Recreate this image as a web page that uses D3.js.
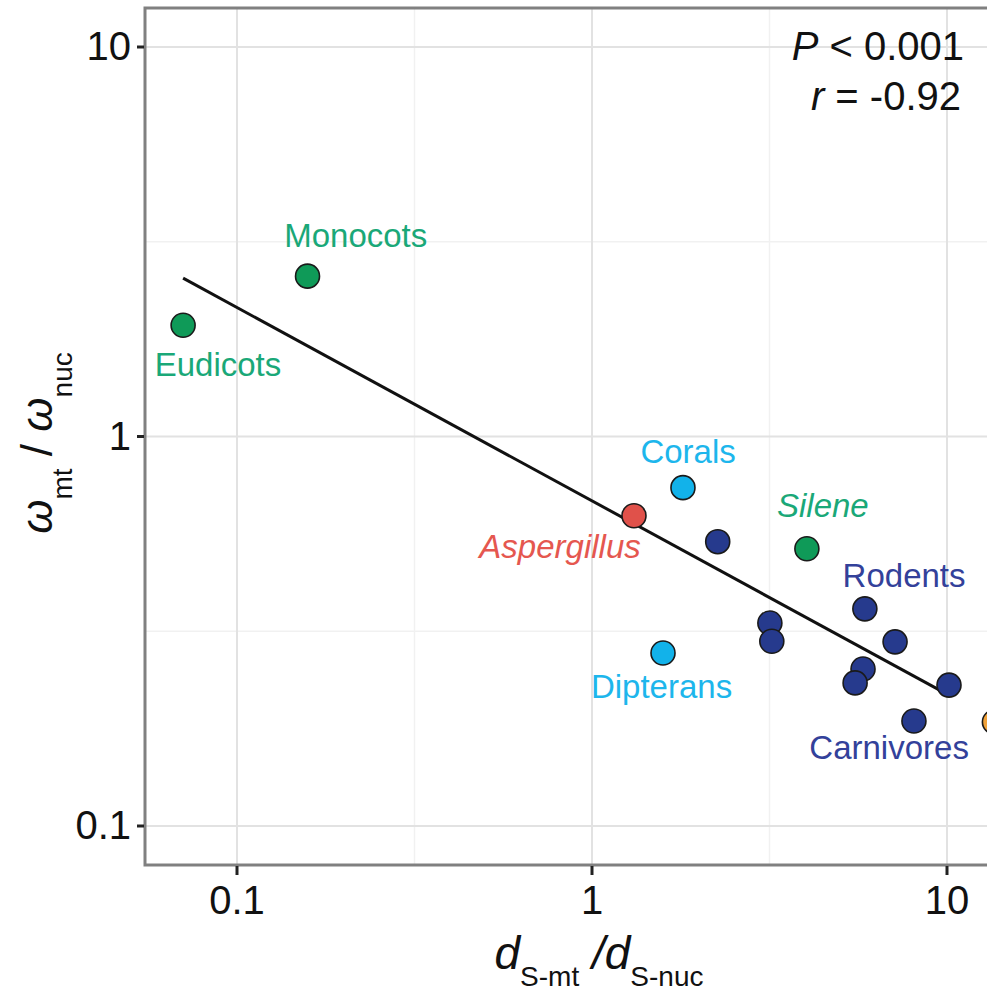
<!DOCTYPE html>
<meta charset="utf-8">
<style>
body { margin: 0; background: #fff; }
svg { display: block; font-family: "Liberation Sans", Arial, sans-serif; }
.grid-major { stroke: #e2e2e2; stroke-width: 2px; }
.grid-minor { stroke: #f1f1f1; stroke-width: 1.5px; }
.tick { stroke: #222; stroke-width: 3px; }
.ticklab { font-size: 40px; fill: #111; }
.pt { stroke: #1a1a1a; stroke-width: 1.6px; }
.lab { font-size: 33px; }
</style>
<svg width="987" height="997"></svg>
<script src="https://d3js.org/d3.v7.min.js"></script>
<script>

// points: dS-mt/dS-nuc (x), omega-mt/omega-nuc (y), group
var xVals = [0.0705, 0.158, 1.313, 1.804, 1.585, 4.03, 2.26, 3.17, 3.21, 5.87, 7.14, 5.80, 5.51, 10.13, 8.07, 13.6];
var yVals = [1.93, 2.58, 0.626, 0.739, 0.278, 0.515, 0.537, 0.332, 0.298, 0.361, 0.297, 0.253, 0.233, 0.230, 0.186, 0.185];
var groupOf = ["plant", "plant", "fungus", "cnidarian", "insect", "plant", "mammal", "mammal", "mammal", "mammal", "mammal", "mammal", "mammal", "mammal", "mammal", "other"];

var groupNames = ["plant", "fungus", "cnidarian", "insect", "mammal", "other"];
var pointColors = ["#0f9a58", "#e0514a", "#12b2ea", "#12b2ea", "#263a8d", "#f0a23a"];
var labelColors = ["#1aa878", "#e5574f", "#1db6ec", "#1db6ec", "#33419a", "#f0a23a"];

// annotation labels (anchored in data units, text centred)
var labelText = ["Monocots", "Eudicots", "Corals", "Aspergillus", "Silene", "Rodents", "Dipterans", "Carnivores"];
var labelX = [0.216, 0.0884, 1.865, 0.813, 4.47, 7.57, 1.57, 6.87];
var labelY = [3.07, 1.43, 0.857, 0.488, 0.623, 0.411, 0.213, 0.149];
var labelGroup = ["plant", "plant", "cnidarian", "fungus", "plant", "mammal", "insect", "mammal"];
var labelItalic = [false, false, false, true, true, false, false, false];

// regression line ends
var fitX = [0.0705, 10.0];
var fitY = [2.55, 0.218];

var tickVals = [0.1, 1, 10];
var tickLabels = ["0.1", "1", "10"];
var minorVals = [Math.sqrt(0.1), Math.sqrt(10)];

var svg = d3.select("svg");
var panel = {left: 145, right: 1000, top: 8, bottom: 865};

var x = d3.scaleLog().domain([0.1, 10]).range([237, 947]);
var y = d3.scaleLog().domain([0.1, 10]).range([826, 47]);

var color = d3.scaleOrdinal().domain(groupNames).range(pointColors);
var labColor = d3.scaleOrdinal().domain(groupNames).range(labelColors);

svg.append("rect")
    .attr("x", panel.left).attr("y", panel.top)
    .attr("width", panel.right - panel.left).attr("height", panel.bottom - panel.top)
    .attr("fill", "#fff");

var grid = svg.append("g");
grid.selectAll(".vminor").data(minorVals).enter().append("line")
    .attr("class", "grid-minor")
    .attr("x1", x).attr("x2", x).attr("y1", panel.top).attr("y2", panel.bottom);
grid.selectAll(".hminor").data(minorVals).enter().append("line")
    .attr("class", "grid-minor")
    .attr("y1", y).attr("y2", y).attr("x1", panel.left).attr("x2", panel.right);
grid.selectAll(".vmajor").data(tickVals).enter().append("line")
    .attr("class", "grid-major")
    .attr("x1", x).attr("x2", x).attr("y1", panel.top).attr("y2", panel.bottom);
grid.selectAll(".hmajor").data(tickVals).enter().append("line")
    .attr("class", "grid-major")
    .attr("y1", y).attr("y2", y).attr("x1", panel.left).attr("x2", panel.right);

// fit line
svg.append("path")
    .datum(d3.zip(fitX, fitY))
    .attr("fill", "none")
    .attr("stroke", "#111")
    .attr("stroke-width", 3)
    .attr("d", d3.line().x(function(d) { return x(d[0]); }).y(function(d) { return y(d[1]); }));

// points
var pts = d3.range(xVals.length).map(function(i) {
  return {x: xVals[i], y: yVals[i], g: groupOf[i]};
});
svg.append("g").selectAll("circle")
    .data(pts)
  .enter().append("circle")
    .attr("class", "pt")
    .attr("cx", function(d) { return x(d.x); })
    .attr("cy", function(d) { return y(d.y); })
    .attr("r", 12)
    .attr("fill", function(d) { return color(d.g); });

// labels
svg.append("g").selectAll("text")
    .data(d3.range(labelText.length))
  .enter().append("text")
    .attr("class", "lab")
    .attr("x", function(i) { return x(labelX[i]); })
    .attr("y", function(i) { return y(labelY[i]); })
    .attr("text-anchor", "middle")
    .attr("font-style", function(i) { return labelItalic[i] ? "italic" : "normal"; })
    .attr("fill", function(i) { return labColor(labelGroup[i]); })
    .text(function(i) { return labelText[i]; });

// panel border (gray), right side runs off the page
svg.append("rect")
    .attr("x", panel.left).attr("y", panel.top)
    .attr("width", panel.right - panel.left).attr("height", panel.bottom - panel.top)
    .attr("fill", "none")
    .attr("stroke", "#808080")
    .attr("stroke-width", 3);

// ticks
svg.selectAll(".xt").data(tickVals).enter().append("line")
    .attr("class", "tick")
    .attr("x1", x).attr("x2", x).attr("y1", panel.bottom + 1).attr("y2", panel.bottom + 10);
svg.selectAll(".yt").data(tickVals).enter().append("line")
    .attr("class", "tick")
    .attr("y1", y).attr("y2", y).attr("x1", panel.left - 8).attr("x2", panel.left - 1);

svg.selectAll(".xl").data(tickVals).enter().append("text")
    .attr("class", "ticklab")
    .attr("x", x).attr("y", 914)
    .attr("text-anchor", "middle")
    .text(function(d, i) { return tickLabels[i]; });
svg.selectAll(".yl").data(tickVals).enter().append("text")
    .attr("class", "ticklab")
    .attr("x", 131).attr("y", function(d) { return y(d) + 13; })
    .attr("text-anchor", "end")
    .text(function(d, i) { return tickLabels[i]; });

// stats
var stat1 = svg.append("text").attr("x", 964).attr("y", 60)
    .attr("text-anchor", "end").attr("font-size", 40).attr("fill", "#111");
stat1.append("tspan").attr("font-style", "italic").text("P");
stat1.append("tspan").text(" < 0.001");
var stat2 = svg.append("text").attr("x", 961).attr("y", 110)
    .attr("text-anchor", "end").attr("font-size", 40).attr("fill", "#111");
stat2.append("tspan").attr("font-style", "italic").text("r");
stat2.append("tspan").text(" = -0.92");

// x axis title
var xt = svg.append("text").attr("x", 599).attr("y", 969)
    .attr("text-anchor", "middle").attr("fill", "#111");
xt.append("tspan").attr("font-size", 46).attr("font-style", "italic").text("d");
xt.append("tspan").attr("font-size", 28).attr("dy", 17).text("S-mt");
xt.append("tspan").attr("font-size", 46).attr("dy", -17).attr("font-style", "italic").text(" /d");
xt.append("tspan").attr("font-size", 28).attr("dy", 17).text("S-nuc");

// y axis title
var yt = svg.append("text")
    .attr("transform", "translate(52,443) rotate(-90)")
    .attr("text-anchor", "middle").attr("fill", "#111");
yt.append("tspan").attr("font-size", 44).attr("font-style", "italic").text("ω");
yt.append("tspan").attr("font-size", 28).attr("dy", 20).text("mt");
yt.append("tspan").attr("font-size", 44).attr("dy", -20).text(" / ");
yt.append("tspan").attr("font-size", 44).attr("font-style", "italic").text("ω");
yt.append("tspan").attr("font-size", 28).attr("dy", 20).text("nuc");

</script>
